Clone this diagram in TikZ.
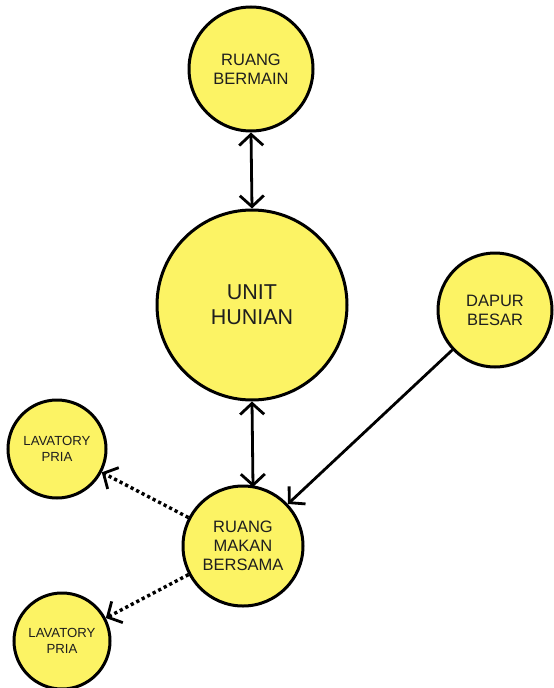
\documentclass[tikz,border=0pt]{standalone}
\usepackage{fontspec}
\setmainfont{Liberation Sans}
\usetikzlibrary{arrows.meta}
\definecolor{bubble}{RGB}{252,243,100}
\definecolor{txt}{RGB}{30,30,30}
\tikzset{
  room/.style={circle, draw=black, line width=3pt, fill=bubble, text=txt, align=center, inner sep=0pt, minimum size=#1},
  link/.style={line width=2.8pt, draw=black},
  barb/.style={-{Straight Barb[length=11pt,width=24pt,line width=2.8pt]}},
  dbarb/.style={{Straight Barb[length=11pt,width=24pt,line width=2.8pt]}-{Straight Barb[length=11pt,width=24pt,line width=2.8pt]}},
  dots/.style={line width=3.4pt, dash pattern=on 3.2pt off 3pt}
}
\begin{document}
\begin{tikzpicture}[x=1pt,y=-1pt]
\useasboundingbox (0,0) rectangle (554,688);
\node[room=124pt, font=\fontsize{16.5}{19}\selectfont] (bermain) at (251,69) {RUANG\\BERMAIN};
\node[room=190pt, font=\fontsize{21.5}{25}\selectfont] (unit) at (252,305) {UNIT\\HUNIAN};
\node[room=114pt, font=\fontsize{16.5}{19}\selectfont] (dapur) at (495,310) {DAPUR\\BESAR};
\node[room=98pt, font=\fontsize{13.2}{15.5}\selectfont] (lav1) at (57,449) {LAVATORY\\PRIA};
\node[room=120pt, font=\fontsize{16.5}{19}\selectfont] (makan) at (243,546) {RUANG\\MAKAN\\BERSAMA};
\node[room=96pt, font=\fontsize{13.2}{15.5}\selectfont] (lav2) at (62,641) {LAVATORY\\PRIA};
\coordinate (mk) at (253,487);
\draw[link, dbarb] (bermain.south) -- (unit.north);
\draw[link, dbarb] (unit.south) -- (mk);
\draw[link, barb] (dapur) -- (makan);
\draw[dots, barb] (makan) -- (lav1);
\draw[dots, barb] (makan) -- (lav2);
\end{tikzpicture}
\end{document}
